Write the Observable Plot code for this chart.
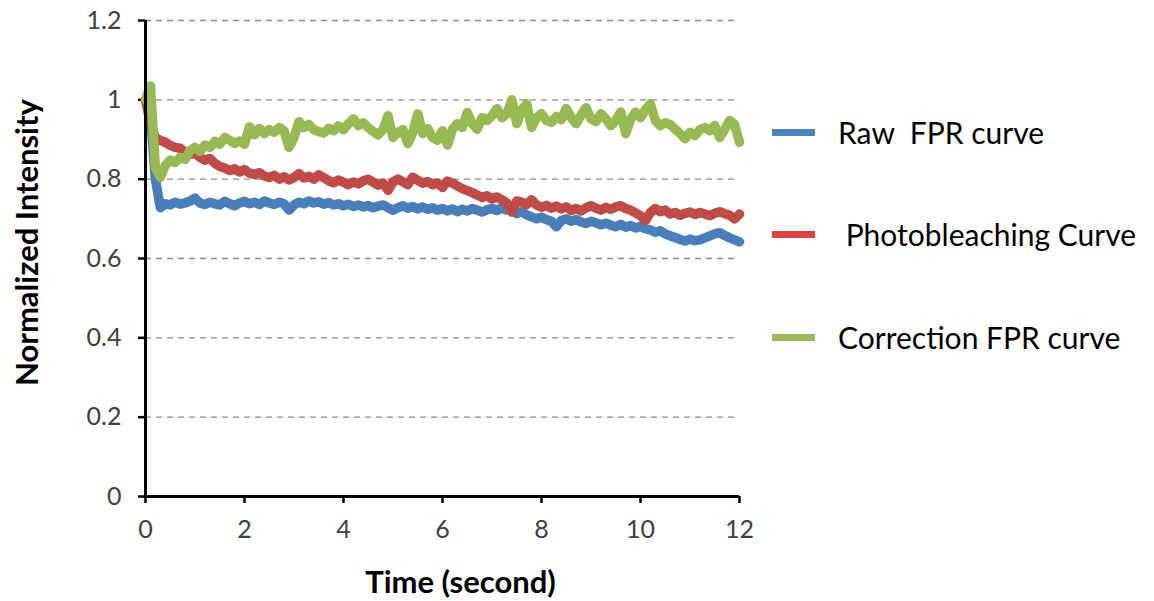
<!DOCTYPE html>
<html>
<head>
<meta charset="utf-8">
<script src="https://cdn.jsdelivr.net/npm/d3@7"></script>
<script src="https://cdn.jsdelivr.net/npm/@observablehq/plot@0.6"></script>
<style>
  html, body { margin: 0; padding: 0; background: #fff; }
  #wrap { position: relative; width: 1154px; height: 601px; }
  #legend { position: absolute; left: 772px; top: 0; font-family: Lato, "Open Sans", sans-serif; font-size: 30px; color: #000; }
  .row { position: absolute; left: 0; white-space: pre; display: flex; align-items: center; }
  .sw { width: 43px; height: 7px; margin-right: 23px; }
</style>
</head>
<body>
<div id="wrap">
  <div id="chart"></div>
  <div id="legend"></div>
</div>
<script>
// Sampling times (seconds)
const time = d3.range(0, 121).map(i => +(i * 0.1).toFixed(1));

// Raw FPR curve
const rawFPR = [
  1.000, 0.960, 0.800, 0.728, 0.738, 0.735, 0.742, 0.737, 0.740, 0.745,
  0.752, 0.740, 0.736, 0.742, 0.738, 0.735, 0.744, 0.738, 0.733, 0.740,
  0.744, 0.738, 0.742, 0.736, 0.745, 0.740, 0.736, 0.742, 0.738, 0.722,
  0.735, 0.742, 0.738, 0.745, 0.740, 0.743, 0.737, 0.741, 0.735, 0.738,
  0.733, 0.737, 0.731, 0.735, 0.730, 0.733, 0.728, 0.732, 0.735, 0.728,
  0.722, 0.728, 0.733, 0.727, 0.731, 0.725, 0.730, 0.724, 0.728, 0.722,
  0.726, 0.720, 0.725, 0.718, 0.724, 0.720, 0.726, 0.722, 0.717, 0.723,
  0.726, 0.721, 0.728, 0.722, 0.725, 0.713, 0.718, 0.710, 0.705, 0.700,
  0.704, 0.698, 0.694, 0.680, 0.696, 0.700, 0.694, 0.698, 0.692, 0.688,
  0.694, 0.690, 0.685, 0.689, 0.684, 0.680, 0.686, 0.679, 0.683, 0.677,
  0.681, 0.675, 0.672, 0.666, 0.670, 0.662, 0.657, 0.653, 0.648, 0.644,
  0.649, 0.645, 0.647, 0.652, 0.657, 0.662, 0.665, 0.658, 0.652, 0.647,
  0.642
];

// Photobleaching curve
const bleach = [
  1.000, 0.940, 0.905, 0.898, 0.893, 0.885, 0.880, 0.878, 0.868, 0.862,
  0.866, 0.855, 0.848, 0.852, 0.840, 0.832, 0.828, 0.822, 0.826, 0.818,
  0.824, 0.815, 0.812, 0.816, 0.808, 0.804, 0.810, 0.800, 0.806, 0.798,
  0.804, 0.814, 0.803, 0.807, 0.800, 0.811, 0.804, 0.796, 0.791, 0.798,
  0.792, 0.786, 0.793, 0.788, 0.796, 0.800, 0.792, 0.785, 0.790, 0.772,
  0.793, 0.800, 0.793, 0.786, 0.805, 0.797, 0.790, 0.794, 0.786, 0.790,
  0.779, 0.795, 0.790, 0.783, 0.776, 0.771, 0.766, 0.760, 0.754, 0.758,
  0.750, 0.755, 0.748, 0.740, 0.717, 0.745, 0.742, 0.736, 0.748, 0.735,
  0.729, 0.734, 0.727, 0.732, 0.725, 0.730, 0.721, 0.726, 0.720, 0.728,
  0.733, 0.727, 0.722, 0.729, 0.724, 0.730, 0.733, 0.726, 0.722, 0.715,
  0.708, 0.696, 0.716, 0.726, 0.718, 0.722, 0.712, 0.716, 0.709, 0.714,
  0.717, 0.711, 0.716, 0.712, 0.708, 0.714, 0.718, 0.713, 0.709, 0.700,
  0.712
];

// Correction FPR curve
const corrected = [
  1.000, 1.035, 0.830, 0.805, 0.835, 0.848, 0.842, 0.855, 0.850, 0.872,
  0.880, 0.870, 0.886, 0.880, 0.895, 0.888, 0.905, 0.898, 0.890, 0.896,
  0.888, 0.932, 0.912, 0.928, 0.915, 0.925, 0.918, 0.930, 0.922, 0.880,
  0.905, 0.945, 0.930, 0.938, 0.925, 0.920, 0.916, 0.928, 0.922, 0.934,
  0.925, 0.940, 0.952, 0.935, 0.942, 0.930, 0.920, 0.912, 0.925, 0.960,
  0.905, 0.918, 0.925, 0.890, 0.918, 0.965, 0.915, 0.928, 0.905, 0.898,
  0.922, 0.886, 0.925, 0.940, 0.930, 0.968, 0.940, 0.926, 0.955, 0.948,
  0.960, 0.978, 0.955, 0.965, 1.000, 0.940, 0.975, 0.990, 0.930, 0.955,
  0.965, 0.948, 0.943, 0.958, 0.950, 0.978, 0.955, 0.940, 0.962, 0.980,
  0.952, 0.945, 0.965, 0.952, 0.935, 0.948, 0.969, 0.915, 0.950, 0.969,
  0.955, 0.975, 0.990, 0.948, 0.935, 0.942, 0.938, 0.926, 0.915, 0.902,
  0.918, 0.910, 0.925, 0.930, 0.922, 0.935, 0.905, 0.925, 0.948, 0.938,
  0.893
];

const seriesNames = ["Raw  FPR curve", " Photobleaching Curve", "Correction FPR curve"];
const lineColors = ["#4A7EBB", "#BE4B48", "#98B954"];
const swatchColors = ["#4F81BD", "#DC4440", "#9BBB59"];
const xTicks = [0, 2, 4, 6, 8, 10, 12];
const yTicks = [0, 0.2, 0.4, 0.6, 0.8, 1, 1.2];

const values = [rawFPR, bleach, corrected];
const rows = values.flatMap((arr, s) =>
  arr.map((v, i) => ({series: seriesNames[s], t: time[i], v}))
);

const font = "Lato, 'Open Sans', sans-serif";

const chart = Plot.plot({
  width: 1154,
  height: 601,
  marginLeft: 145,
  marginRight: 415,
  marginTop: 20,
  marginBottom: 105,
  style: {fontFamily: font, background: "#fff", overflow: "visible"},
  x: {domain: [0, 12]},
  y: {domain: [0, 1.2]},
  color: {domain: seriesNames, range: lineColors},
  marks: [
    Plot.ruleY(yTicks.filter(d => d > 0), {stroke: "#8c8c8c", strokeWidth: 1.3, strokeDasharray: "6,5"}),
    Plot.axisY(yTicks, {
      tickSize: 7, tickPadding: 17, fontSize: 25, stroke: "#000", strokeWidth: 2.5,
      fill: "#404040", label: null, tickFormat: d => String(d)
    }),
    Plot.axisX(xTicks, {
      tickSize: 7, tickPadding: 17, fontSize: 25, stroke: "#000", strokeWidth: 2.5,
      fill: "#404040", label: null, tickFormat: d => String(d)
    }),
    Plot.line(rows, {
      x: "t", y: "v", z: "series", stroke: "series",
      strokeWidth: 9.5, strokeLinejoin: "round", strokeLinecap: "round"
    }),
    Plot.ruleX([0], {y1: 0, y2: 1.2, stroke: "#000", strokeWidth: 3}),
    Plot.ruleY([0], {x1: 0, x2: 12, stroke: "#000", strokeWidth: 3}),
    Plot.text(["Normalized Intensity"], {
      frameAnchor: "left", textAnchor: "middle", lineAnchor: "middle",
      dx: -117, dy: -16, rotate: -90,
      fontSize: 31, fontWeight: "bold", fill: "#000"
    }),
    Plot.text(["Time (second)"], {
      frameAnchor: "bottom", textAnchor: "middle", lineAnchor: "middle",
      dx: 18, dy: 87,
      fontSize: 31, fontWeight: "bold", fill: "#000"
    })
  ]
});
document.getElementById("chart").appendChild(chart);

// Legend to the right of the plot area
const legend = document.getElementById("legend");
const rowCenters = [132, 234, 337];
seriesNames.forEach((name, i) => {
  const row = document.createElement("div");
  row.className = "row";
  row.style.top = (rowCenters[i] - 20) + "px";
  row.style.height = "40px";
  const sw = document.createElement("div");
  sw.className = "sw";
  sw.style.background = swatchColors[i];
  const label = document.createElement("span");
  label.textContent = name;
  row.appendChild(sw);
  row.appendChild(label);
  legend.appendChild(row);
});
</script>
</body>
</html>
